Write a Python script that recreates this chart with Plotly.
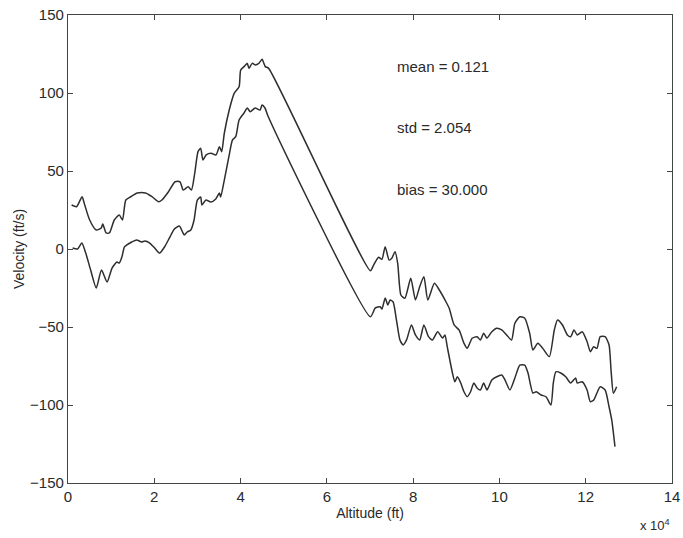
import plotly.graph_objects as go

# Altitude in units of 10^4 ft, velocity in ft/s
alt_lower = [0.107, 0.221, 0.320, 0.411, 0.525, 0.655, 0.776, 0.906, 1.021, 1.135, 1.187, 1.249,
             1.308, 1.363, 1.477, 1.591, 1.705, 1.781, 1.895, 2.009, 2.123, 2.237, 2.352, 2.466,
             2.580, 2.655, 2.694, 2.763, 2.847, 2.922, 2.998, 3.075, 3.105, 3.196, 3.311, 3.425,
             3.509, 3.539, 3.623, 3.737, 3.813, 3.888, 3.966, 4.080, 4.155, 4.224, 4.338, 4.452,
             4.498, 4.566, 4.635, 7.009, 7.123, 7.237, 7.276, 7.352, 7.413, 7.466, 7.534, 7.619,
             7.694, 7.769, 7.847, 7.961, 8.053, 8.151, 8.249, 8.356, 8.447, 8.568, 8.683, 8.737,
             8.790, 8.911, 8.966, 9.025, 9.103, 9.178, 9.253, 9.331, 9.406, 9.482, 9.559, 9.635,
             9.710, 9.824, 9.938, 10.053, 10.130, 10.244, 10.358, 10.473, 10.587, 10.662, 10.776,
             10.852, 10.966, 11.080, 11.194, 11.249, 11.308, 11.422, 11.537, 11.651, 11.765,
             11.804, 11.918, 12.032, 12.107, 12.185, 12.260, 12.336, 12.450, 12.541, 12.603, 12.678]
vel_lower = [0.6, 0.0, 3.8, -2.6, -13.5, -25.0, -13.5, -21.2, -12.2, -8.3, -9.0, -5.1,
             1.3, 2.6, 4.5, 5.8, 4.5, 5.1, 3.8, 0.6, -2.6, 1.3, 7.1, 12.8,
             14.7, 10.9, 9.0, 10.9, 12.2, 18.6, 31.4, 33.3, 28.2, 31.4, 30.1, 32.1,
             35.9, 33.3, 44.2, 60.3, 69.9, 72.0, 82.7, 87.2, 90.4, 88.0, 90.4, 89.1,
             92.3, 90.4, 85.3, -43.4, -37.8, -37.0, -38.5, -31.4, -35.9, -32.7, -33.8, -46.6,
             -58.3, -61.5, -58.3, -48.7, -55.1, -58.3, -48.7, -56.2, -58.3, -53.0, -57.1, -55.1,
             -62.6, -79.5, -85.1, -81.9, -85.9, -91.5, -94.7, -91.5, -85.9, -89.1, -90.4, -85.9,
             -90.4, -84.0, -81.9, -80.8, -84.0, -90.4, -82.7, -74.4, -74.4, -79.5, -92.3,
             -91.5, -93.6, -94.7, -100.0, -85.9, -78.7, -79.5, -81.9, -85.9, -82.7,
             -85.9, -85.1, -90.4, -97.9, -96.8, -92.3, -88.3, -90.4, -101.1, -109.6, -126.7]

alt_upper = [0.084, 0.199, 0.326, 0.388, 0.502, 0.655, 0.769, 0.806, 0.884, 0.959, 1.073, 1.187,
             1.263, 1.340, 1.454, 1.605, 1.797, 1.947, 2.100, 2.176, 2.329, 2.482, 2.596, 2.671,
             2.785, 2.861, 2.938, 3.014, 3.075, 3.128, 3.203, 3.317, 3.432, 3.509, 3.562, 3.623,
             3.737, 3.852, 3.966, 4.002, 4.080, 4.155, 4.194, 4.269, 4.345, 4.422, 4.498, 4.573,
             4.651, 7.009, 7.084, 7.199, 7.276, 7.352, 7.443, 7.505, 7.580, 7.642, 7.717, 7.808,
             7.945, 8.053, 8.151, 8.249, 8.340, 8.493, 8.607, 8.760, 8.836, 8.950, 9.064, 9.178,
             9.253, 9.368, 9.482, 9.559, 9.635, 9.710, 9.824, 9.938, 10.053, 10.167, 10.281,
             10.358, 10.473, 10.587, 10.701, 10.776, 10.890, 11.005, 11.157, 11.272, 11.347,
             11.461, 11.575, 11.651, 11.728, 11.804, 11.918, 12.032, 12.107, 12.185, 12.260,
             12.336, 12.450, 12.541, 12.587, 12.642, 12.717]
vel_upper = [28.2, 27.1, 33.5, 28.2, 18.6, 12.2, 13.5, 16.0, 10.3, 10.3, 18.6, 21.8,
             18.6, 31.4, 33.5, 35.9, 35.9, 33.5, 30.3, 31.4, 36.7, 43.1, 43.1, 37.8,
             39.9, 37.8, 48.7, 62.4, 64.6, 57.1, 60.3, 61.3, 60.3, 65.6, 62.4, 74.2,
             89.1, 99.8, 104.0, 114.7, 116.9, 119.0, 115.8, 119.0, 118.0, 119.0, 121.6, 116.9,
             115.8, -13.9, -10.3, -5.3, -6.6, 1.5, -7.1, -6.0, -1.7, -9.2, -29.5, -31.6,
             -18.8, -32.7, -24.2, -17.8, -32.7, -22.0, -26.3, -33.8, -38.0, -48.7, -51.9, -60.4,
             -63.7, -57.2, -56.2, -58.3, -54.0, -57.2, -53.0, -50.8, -51.9, -55.1, -58.3,
             -47.6, -43.4, -44.4, -54.0, -64.7, -60.4, -63.7, -69.0, -51.9, -45.5,
             -48.7, -55.1, -56.2, -51.9, -55.1, -53.0, -59.4, -65.8, -62.6, -63.7,
             -56.2, -56.2, -61.5, -77.6, -92.5, -88.3]

stat_labels = ["mean = 0.121", "std = 2.054", "bias = 30.000"]
stat_y = [117, 78, 38]

x_ticks = [0, 2, 4, 6, 8, 10, 12, 14]
y_ticks = [-150, -100, -50, 0, 50, 100, 150]

line_color = "#2e2e2e"
text_color = "#2a2a2a"
font_family = "Liberation Sans, Arial, sans-serif"

fig = go.Figure()
fig.add_trace(go.Scatter(x=alt_upper, y=vel_upper, mode="lines",
                         line=dict(color=line_color, width=1.5, shape="spline", smoothing=0.6),
                         showlegend=False))
fig.add_trace(go.Scatter(x=alt_lower, y=vel_lower, mode="lines",
                         line=dict(color=line_color, width=1.5, shape="spline", smoothing=0.6),
                         showlegend=False))

for lab, yv in zip(stat_labels, stat_y):
    fig.add_annotation(x=7.58, y=yv, text=lab, showarrow=False, xanchor="left",
                       yanchor="middle", font=dict(size=15, color=text_color, family=font_family))

fig.add_annotation(xref="paper", yref="paper", x=1.0, y=-0.09, text="x 10<sup>4</sup>",
                   showarrow=False, xanchor="right", yanchor="middle",
                   font=dict(size=13, color=text_color, family=font_family))

axis_common = dict(showline=True, linecolor="#444444", linewidth=1.2, mirror="ticks",
                   ticks="inside", ticklen=5, tickcolor="#444444", showgrid=False,
                   zeroline=False, ticklabeloverflow="allow", automargin=False,
                   tickfont=dict(size=15, color=text_color, family=font_family))

fig.update_layout(
    width=683, height=538,
    margin=dict(l=68, r=11, t=15, b=55),
    paper_bgcolor="white", plot_bgcolor="white",
    xaxis=dict(range=[0, 14], tickvals=x_ticks, ticktext=[str(v) for v in x_ticks],
               title=dict(text="Altitude (ft)", standoff=4,
                          font=dict(size=14, color=text_color, family=font_family)),
               **axis_common),
    yaxis=dict(range=[-150, 150], tickvals=y_ticks,
               ticktext=[str(v).replace("-", "\u2212") for v in y_ticks],
               title=dict(text="Velocity (ft/s)", standoff=2,
                          font=dict(size=14, color=text_color, family=font_family)),
               **axis_common),
)

# Remove the default page margin so the 683x538 figure fills the window exactly.
fig.write_html("out.html",
               config={"displayModeBar": False},
               post_script="document.body.style.margin='0';"
                           "document.documentElement.style.overflow='hidden';")
